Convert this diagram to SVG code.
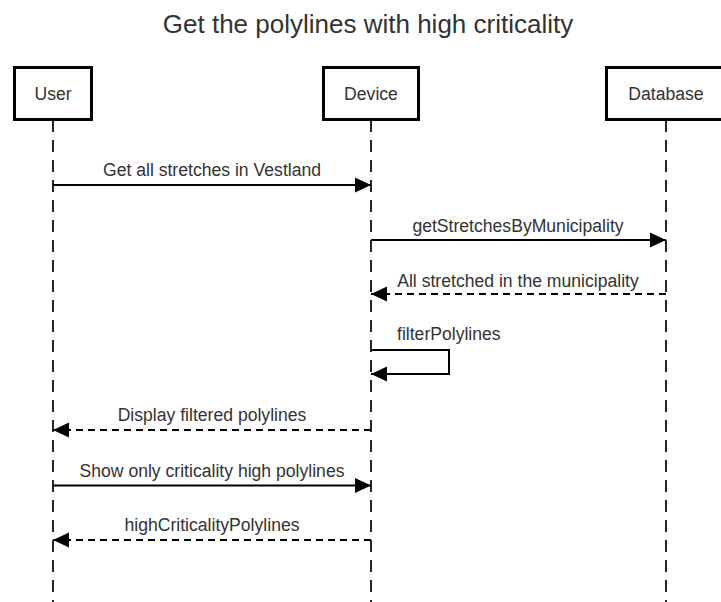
<svg xmlns="http://www.w3.org/2000/svg" width="721" height="602" viewBox="0 0 721 602">
<style>
.box{fill:#ffffff;stroke:#000000;stroke-width:3}
.life{stroke:#000000;stroke-width:1.7;stroke-dasharray:12 8;fill:none}
.msg{stroke:#000000;stroke-width:2;fill:none}
.ret{stroke:#000000;stroke-width:2;fill:none;stroke-dasharray:7 5}
.t{font-family:"Liberation Sans",Arial,sans-serif;font-size:17.6px;fill:#333333}
.title{font-family:"Liberation Sans",Arial,sans-serif;font-size:26px;fill:#333333}
</style>
<defs>
<marker id="ah" viewBox="0 0 16 16" refX="16" refY="8" markerWidth="16" markerHeight="16" markerUnits="userSpaceOnUse" orient="auto">
<path d="M0,0.5 L16,8 L0,15.5 Z" fill="#000000"/>
</marker>
</defs>
<rect width="721" height="602" fill="#ffffff"/>
<text class="title" x="368" y="33" text-anchor="middle">Get the polylines with high criticality</text>
<g id="lifelines">
<line class="life" x1="53" y1="120" x2="53" y2="602"/>
<line class="life" x1="371" y1="120" x2="371" y2="602"/>
<line class="life" x1="666" y1="120" x2="666" y2="602"/>
</g>
<g id="user">
<rect class="box" x="14.5" y="67.5" width="77" height="52"/>
<text class="t" x="53" y="100" text-anchor="middle">User</text>
</g>
<g id="device">
<rect class="box" x="323.5" y="67.5" width="95" height="52"/>
<text class="t" x="371" y="100" text-anchor="middle">Device</text>
</g>
<g id="database">
<rect class="box" x="606.5" y="67.5" width="119" height="52"/>
<text class="t" x="666" y="100" text-anchor="middle">Database</text>
</g>
<g id="connectors">
<line class="msg" x1="53" y1="185" x2="371" y2="185" marker-end="url(#ah)"/>
<text class="t" x="212" y="176" text-anchor="middle">Get all stretches in Vestland</text>
<line class="msg" x1="371" y1="240" x2="666" y2="240" marker-end="url(#ah)"/>
<text class="t" x="518" y="232" text-anchor="middle">getStretchesByMunicipality</text>
<line class="ret" x1="666" y1="294" x2="371" y2="294" marker-end="url(#ah)"/>
<text class="t" x="518" y="287" text-anchor="middle">All stretched in the municipality</text>
<polyline class="msg" points="371,350 449,350 449,374 371,374" marker-end="url(#ah)"/>
<text class="t" x="397" y="340">filterPolylines</text>
<line class="ret" x1="371" y1="430" x2="53" y2="430" marker-end="url(#ah)"/>
<text class="t" x="212" y="421" text-anchor="middle">Display filtered polylines</text>
<line class="msg" x1="53" y1="485.5" x2="371" y2="485.5" marker-end="url(#ah)"/>
<text class="t" x="212" y="477" text-anchor="middle">Show only criticality high polylines</text>
<line class="ret" x1="371" y1="540" x2="53" y2="540" marker-end="url(#ah)"/>
<text class="t" x="212" y="531" text-anchor="middle">highCriticalityPolylines</text>
</g>
</svg>
